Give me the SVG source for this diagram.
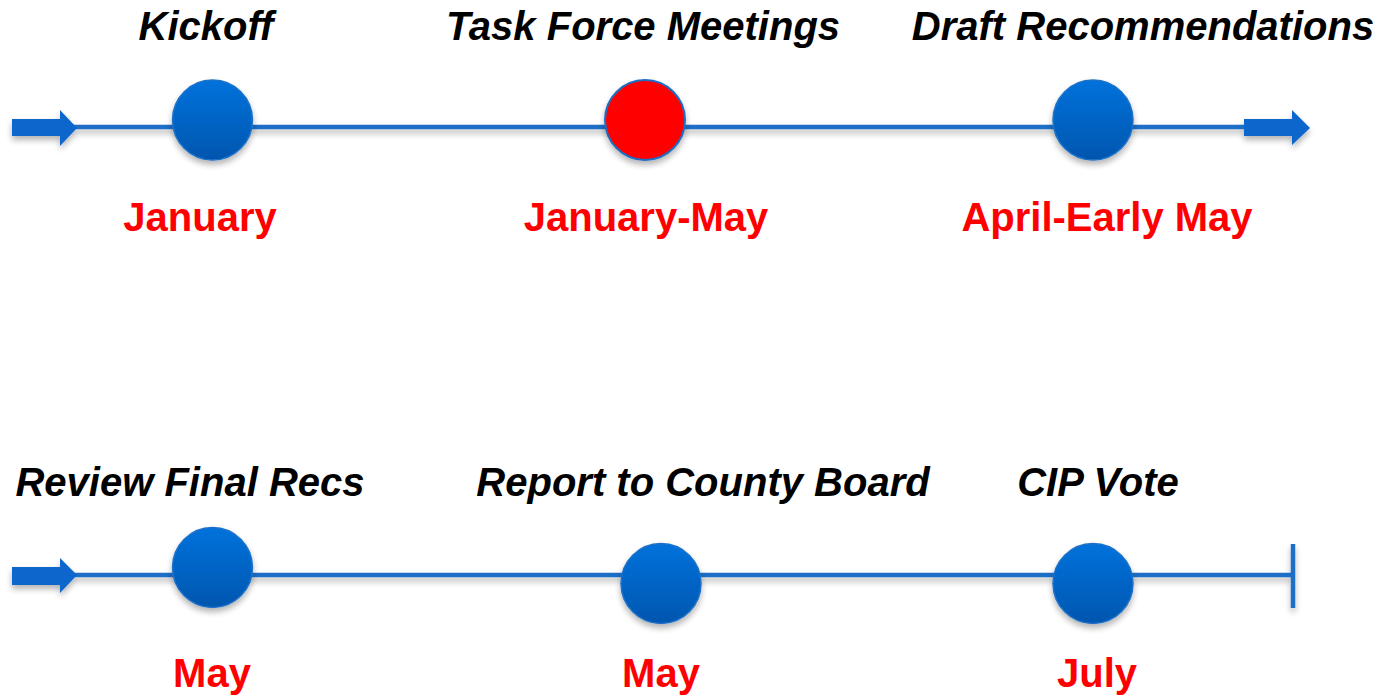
<svg xmlns="http://www.w3.org/2000/svg" width="1389" height="697" viewBox="0 0 1389 697">
<defs>
<linearGradient id="blueGrad" x1="0" y1="0" x2="0" y2="1">
<stop offset="0" stop-color="#0072dc"/>
<stop offset="1" stop-color="#0056ae"/>
</linearGradient>
<filter id="shadow" x="-30%" y="-30%" width="160%" height="170%">
<feGaussianBlur in="SourceAlpha" stdDeviation="3"/>
<feOffset dx="0" dy="4" result="b"/>
<feComponentTransfer><feFuncA type="linear" slope="0.3"/></feComponentTransfer>
<feMerge><feMergeNode/><feMergeNode in="SourceGraphic"/></feMerge>
</filter>
</defs>
<style>
.line{stroke:#1a6ec6;stroke-width:4.5;fill:none}
.arrow{fill:#0a66cc}
.node{fill:url(#blueGrad);stroke:#1d72c8;stroke-width:1.5}
.active{fill:#ff0000;stroke:#1d6ec4;stroke-width:2}
.title{font-family:"Liberation Sans",Arial,sans-serif;font-size:40px;font-weight:bold;font-style:italic;fill:#000;text-anchor:middle}
.date{font-family:"Liberation Sans",Arial,sans-serif;font-size:40px;font-weight:bold;fill:#ff0000;text-anchor:middle}
</style>
<g id="connectors" filter="url(#shadow)">
<line class="line" x1="60" y1="127" x2="1250" y2="127"/>
<path class="arrow" d="M12,119 H60 V110 L77,128 L60,146 V136 H12 Z"/>
<path class="arrow" d="M1244,119 H1292 V110 L1310,128 L1292,145 V136 H1244 Z"/>
<line class="line" x1="60" y1="575" x2="1293" y2="575"/>
<path class="arrow" d="M12,567 H60 V558 L77,575 L60,593 V585 H12 Z"/>
<line class="line" x1="1293" y1="544" x2="1293" y2="608"/>
</g>
<g id="kickoff">
<circle class="node" cx="212.5" cy="120" r="40" filter="url(#shadow)"/>
<text class="title" x="206" y="40">Kickoff</text>
<text class="date" x="200" y="231">January</text>
</g>
<g id="task-force-meetings">
<circle class="active" cx="645" cy="120" r="40" filter="url(#shadow)"/>
<text class="title" x="643" y="40">Task Force Meetings</text>
<text class="date" x="646" y="231">January-May</text>
</g>
<g id="draft-recommendations">
<circle class="node" cx="1093" cy="120" r="40" filter="url(#shadow)"/>
<text class="title" x="1143" y="40">Draft Recommendations</text>
<text class="date" x="1107" y="231">April-Early May</text>
</g>
<g id="review-final-recs">
<circle class="node" cx="212.5" cy="567.5" r="40" filter="url(#shadow)"/>
<text class="title" x="190" y="496">Review Final Recs</text>
<text class="date" x="212" y="687">May</text>
</g>
<g id="report-to-county-board">
<circle class="node" cx="661" cy="583.5" r="40" filter="url(#shadow)"/>
<text class="title" x="703" y="496">Report to County Board</text>
<text class="date" x="661" y="687">May</text>
</g>
<g id="cip-vote">
<circle class="node" cx="1093" cy="583.5" r="40" filter="url(#shadow)"/>
<text class="title" x="1098" y="496">CIP Vote</text>
<text class="date" x="1097" y="687">July</text>
</g>
</svg>
